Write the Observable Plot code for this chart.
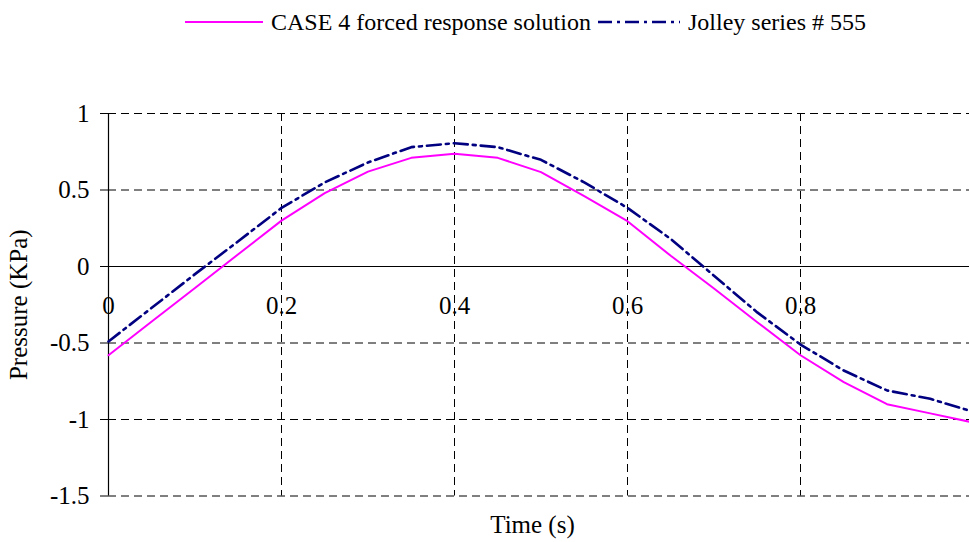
<!DOCTYPE html>
<html>
<head>
<meta charset="utf-8">
<script src="https://cdn.jsdelivr.net/npm/d3@7"></script>
<script src="https://cdn.jsdelivr.net/npm/@observablehq/plot@0.6"></script>
<style>
  html, body { margin: 0; padding: 0; background: #fff; }
  body { width: 969px; height: 542px; overflow: hidden; font-family: "Liberation Serif", "Times New Roman", serif; color: #000; }
  #legend { position: relative; height: 48px; }
  .item { position: absolute; top: 7px; display: flex; align-items: center; font-size: 24px; white-space: nowrap; }
  .item svg { display: block; margin-right: 8px; }
  #xlabel { height: 32px; line-height: 30px; font-size: 25px; text-align: center; padding-left: 96px; }
</style>
</head>
<body>
<div id="legend"></div>
<div id="chart"></div>
<div id="xlabel">Time (s)</div>
<script>
// Time samples (s)
const time = [0, 0.05, 0.1, 0.15, 0.2, 0.25, 0.3, 0.35, 0.4, 0.45, 0.5,
              0.55, 0.6, 0.65, 0.7, 0.75, 0.8, 0.85, 0.9, 0.95, 1.0];
// CASE 4 forced response solution (KPa)
const forced = [-0.58, -0.36, -0.14, 0.08, 0.30, 0.48, 0.62, 0.71, 0.737, 0.71, 0.617,
                0.46, 0.296, 0.07, -0.144, -0.364, -0.58, -0.756, -0.90, -0.96, -1.02];
// Jolley series # 555 (KPa)
const jolley = [-0.49, -0.27, -0.05, 0.165, 0.383, 0.55, 0.68, 0.78, 0.806, 0.78, 0.697,
                0.55, 0.383, 0.18, -0.06, -0.30, -0.51, -0.68, -0.81, -0.865, -0.95];

const seriesNames = ["CASE 4 forced response solution", "Jolley series # 555"];
const yTicks = [-1.5, -1, -0.5, 0, 0.5, 1];
const yGrid = [1, 0.5, -0.5, -1, -1.5];
const xGrid = [0.2, 0.4, 0.6, 0.8];
const xTicks = [0, 0.2, 0.4, 0.6, 0.8];

const colors = ["#ff00ff", "#000080"];
const dashes = [null, "14,5,3,5"];
const widths = [2, 2.6];

const rows = (vals, name) => time.map((t, i) => ({t, v: vals[i], name}));
const forcedRows = rows(forced, seriesNames[0]);
const jolleyRows = rows(jolley, seriesNames[1]);

const font = "'Liberation Serif', 'Times New Roman', serif";

const chart = Plot.plot({
  width: 969,
  height: 462,
  marginLeft: 108,
  marginRight: -4,
  marginTop: 65,
  marginBottom: 14.5,
  style: {fontFamily: font, fontSize: "25px", background: "white", overflow: "visible"},
  x: {domain: [0, 1], axis: null},
  y: {
    domain: [-1.5, 1],
    ticks: yTicks,
    tickFormat: d => String(d),
    tickSize: 8,
    tickPadding: 11,
    label: "Pressure (KPa)",
    labelAnchor: "center",
    labelArrow: false,
    labelOffset: 99
  },
  marks: [
    Plot.ruleY(yGrid, {stroke: "#000", strokeWidth: 1, strokeDasharray: "8,5"}),
    Plot.ruleX(xGrid, {stroke: "#000", strokeWidth: 1, strokeDasharray: "8,5"}),
    Plot.ruleY([0], {stroke: "#000", strokeWidth: 1.2}),
    Plot.ruleX([0], {stroke: "#000", strokeWidth: 1.2}),
    Plot.text(xTicks, {x: d => d, y: () => 0, dy: 39, text: d => String(d), fontSize: 25, fill: "#000"}),
    Plot.line(forcedRows, {x: "t", y: "v", stroke: colors[0], strokeWidth: widths[0]}),
    Plot.line(jolleyRows, {x: "t", y: "v", stroke: colors[1], strokeWidth: widths[1], strokeDasharray: dashes[1]})
  ]
});
document.getElementById("chart").appendChild(chart);

// Legend above the plot
const legend = document.getElementById("legend");
const lefts = [185, 598];
const swatchW = [78, 82];
seriesNames.forEach((name, i) => {
  const item = document.createElement("div");
  item.className = "item";
  item.style.left = lefts[i] + "px";
  const sw = d3.create("svg").attr("width", swatchW[i]).attr("height", 30);
  sw.append("line")
    .attr("x1", 0).attr("x2", swatchW[i]).attr("y1", 15).attr("y2", 15)
    .attr("stroke", colors[i]).attr("stroke-width", widths[i])
    .attr("stroke-dasharray", dashes[i]);
  item.appendChild(sw.node());
  const label = document.createElement("span");
  label.textContent = name;
  item.appendChild(label);
  legend.appendChild(item);
});
</script>
</body>
</html>
